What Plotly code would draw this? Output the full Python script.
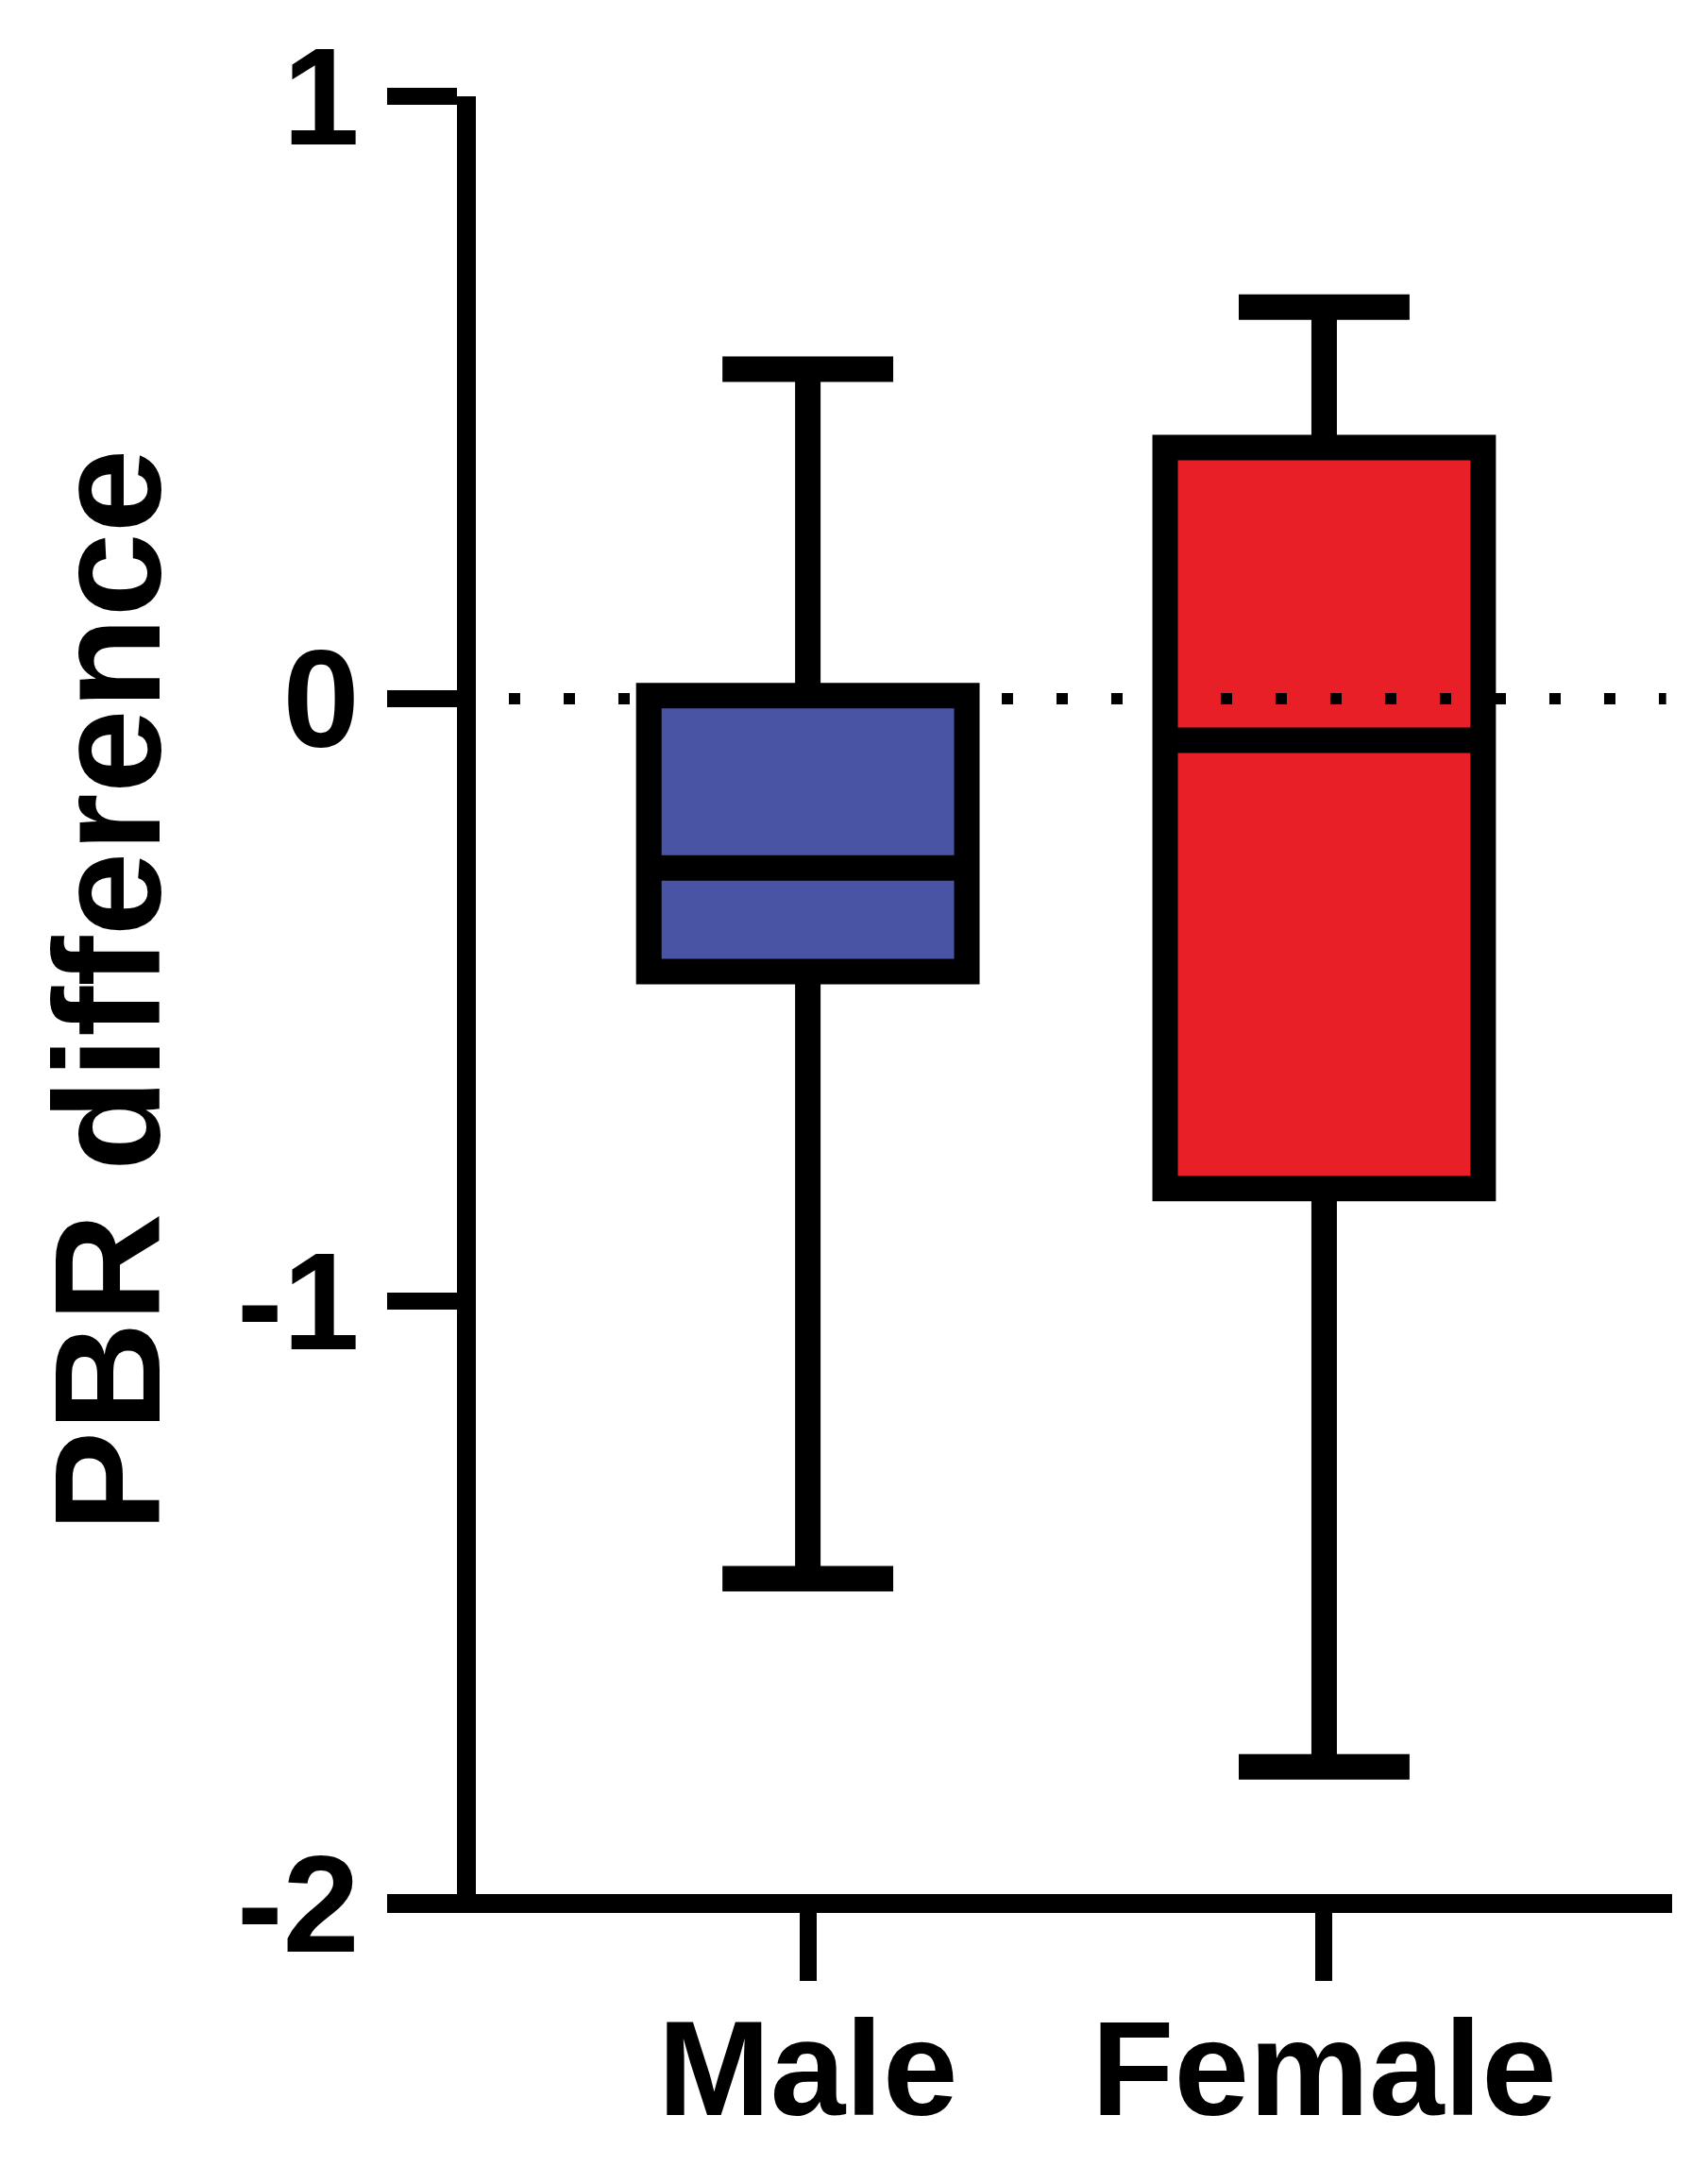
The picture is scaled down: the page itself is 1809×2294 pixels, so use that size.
import plotly.graph_objects as go

groups = ["Male", "Female"]
fill_colors = ["#4A54A4", "#E91F27"]
lower_whisker = [-1.461, -1.773]
q1 = [-0.453, -0.813]
median = [-0.281, -0.069]
q3 = [0.005, 0.417]
upper_whisker = [0.547, 0.650]
y_ticks = [-2, -1, 0, 1]

fig = go.Figure()
for i, g in enumerate(groups):
    fig.add_trace(go.Box(
        x=[g], q1=[q1[i]], median=[median[i]], q3=[q3[i]],
        lowerfence=[lower_whisker[i]], upperfence=[upper_whisker[i]],
        fillcolor=fill_colors[i], line=dict(color="black", width=27),
        width=0.616, whiskerwidth=0.537, boxpoints=False, hoverinfo="skip",
    ))

# x axis line along the bottom, running out under the -2 tick
fig.add_shape(type="line", xref="paper", yref="paper", x0=-0.0742, x1=1, y0=0, y1=0,
              line=dict(color="black", width=20))
# dotted reference line at zero
fig.add_shape(type="line", xref="paper", yref="y", x0=0.0276, x1=0.995, y0=0, y1=0,
              line=dict(color="black", width=12, dash="12px,46px"))

# y title as an annotation so it sits where the original has it
fig.add_annotation(text="PBR difference", xref="paper", yref="paper", x=-0.3086, y=0.505,
                   textangle=-90, showarrow=False, xanchor="center", yanchor="middle",
                   font=dict(size=160, weight="bold"))

fig.update_layout(
    width=1809, height=2294,
    margin=dict(l=504, r=38, t=102, b=278, autoexpand=False),
    plot_bgcolor="white", paper_bgcolor="white",
    showlegend=False,
    font=dict(family="Liberation Sans, Arial, sans-serif", color="black"),
)
fig.update_yaxes(range=[-2, 1], tickvals=y_ticks, ticktext=[str(v) for v in y_ticks],
                 showline=True, linewidth=20, linecolor="black",
                 ticks="outside", ticklen=74, tickwidth=18, tickcolor="black",
                 showgrid=False, zeroline=False,
                 tickfont=dict(size=146, weight="bold"))
fig.update_xaxes(range=[-0.643, 1.674], showline=False, ticks="outside", ticklen=81, tickwidth=18,
                 tickcolor="black", showgrid=False, zeroline=False, ticklabelstandoff=-30,
                 tickfont=dict(size=143, weight="bold"))

fig.write_html("out.html", config={"displayModeBar": False},
               post_script="document.body.style.margin='0';")
